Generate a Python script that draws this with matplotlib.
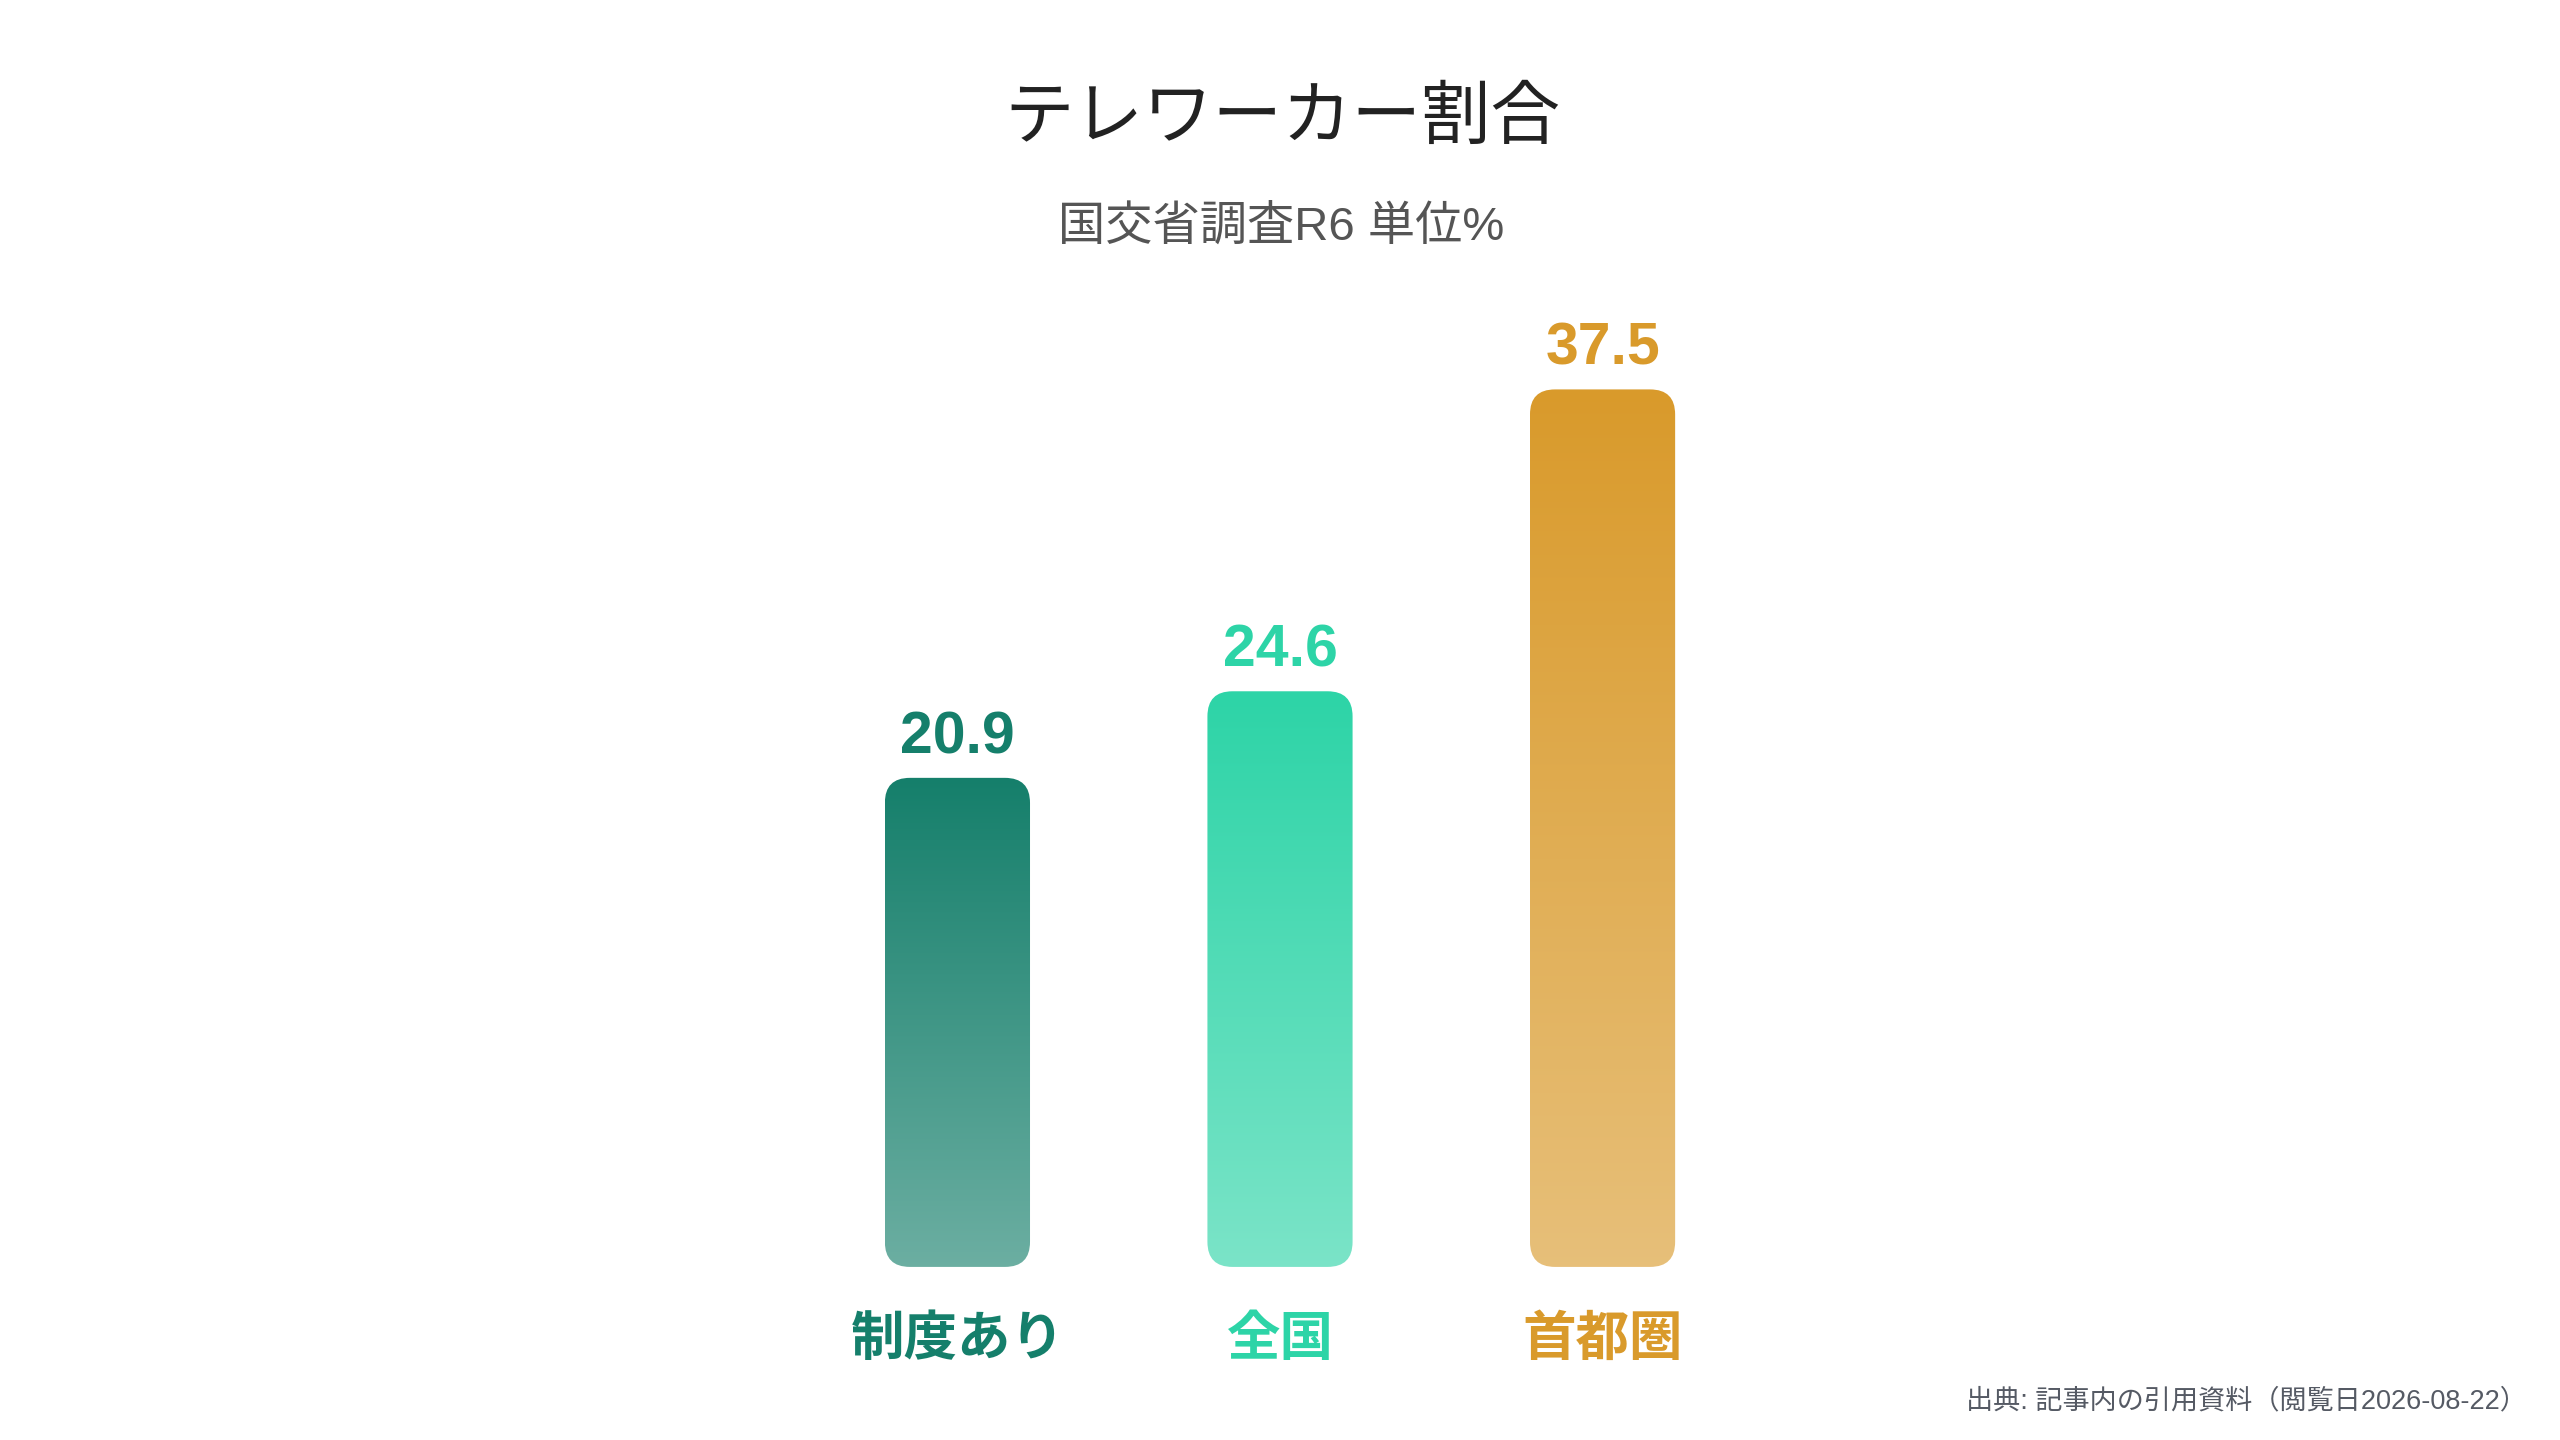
import matplotlib
matplotlib.use("Agg")
import matplotlib.pyplot as plt
import numpy as np
from matplotlib.patches import FancyBboxPatch
from matplotlib.colors import to_rgb

# data
categories = ["制度あり", "全国", "首都圏"]
values = [20.9, 24.6, 37.5]
colors = ["#157F6B", "#2DD4A7", "#D99A2B"]

title = "テレワーカー割合"
subtitle = "国交省調査R6 単位%"
source = "出典: 記事内の引用資料（閲覧日2026-08-22）"

JP = ["Noto Sans CJK JP", "DejaVu Sans"]
LATIN_JP = ["Liberation Sans", "Noto Sans CJK JP"]

fig = plt.figure(figsize=(25.6, 14.4), dpi=100)
fig.patch.set_facecolor("white")
ax = fig.add_axes([0.185, 0.1202, 0.63, 0.65])
ax.set_xlim(-1.5, 3.5)
ax.set_ylim(0, 40)
ax.axis("off")

bw = 0.45
# px per data unit -> aspect for rounded corners
px_x = 0.63 * 2560 / 5.0
px_y = 0.65 * 1440 / 40.0
aspect = px_x / px_y
r = 25 / px_x

for i, (v, c) in enumerate(zip(values, colors)):
    x0 = i - bw / 2
    box = FancyBboxPatch((x0, 0), bw, v,
                         boxstyle=f"round,pad=0,rounding_size={r}",
                         mutation_aspect=aspect,
                         facecolor="none", edgecolor="none")
    ax.add_patch(box)
    # vertical gradient, darker at top, fading toward white at bottom
    t = np.linspace(0.37, 0.0, 256)[:, None]
    base = np.array(to_rgb(c))
    grad = base[None, None, :] * (1 - t[..., None]) + t[..., None]
    grad = np.repeat(grad, 2, axis=1)
    im = ax.imshow(grad, extent=[x0, x0 + bw, 0, v], origin="lower",
                   aspect="auto", interpolation="bicubic", zorder=2)
    im.set_clip_path(box)

    ax.annotate(f"{v:.1f}", (i, v), xytext=(0, 29), textcoords="offset points",
                ha="center", va="center", fontsize=42.5, fontweight="bold",
                color=c, family=LATIN_JP)
    ax.annotate(categories[i], (i, 0), xytext=(0, -52), textcoords="offset points",
                ha="center", va="center", fontsize=38.5, fontweight="bold",
                color=c, family=JP)

fig.text(0.501, 0.918, title, ha="center", va="center", fontsize=50,
         color="#222222", family=JP)
fig.text(0.5005, 0.842, subtitle, ha="center", va="center", fontsize=34,
         color="#555555", family=LATIN_JP)
fig.text(0.987, 0.027, source, ha="right", va="center", fontsize=19.5,
         color="#555a64", family=LATIN_JP)

fig.savefig("out.png", dpi=100, facecolor="white")
